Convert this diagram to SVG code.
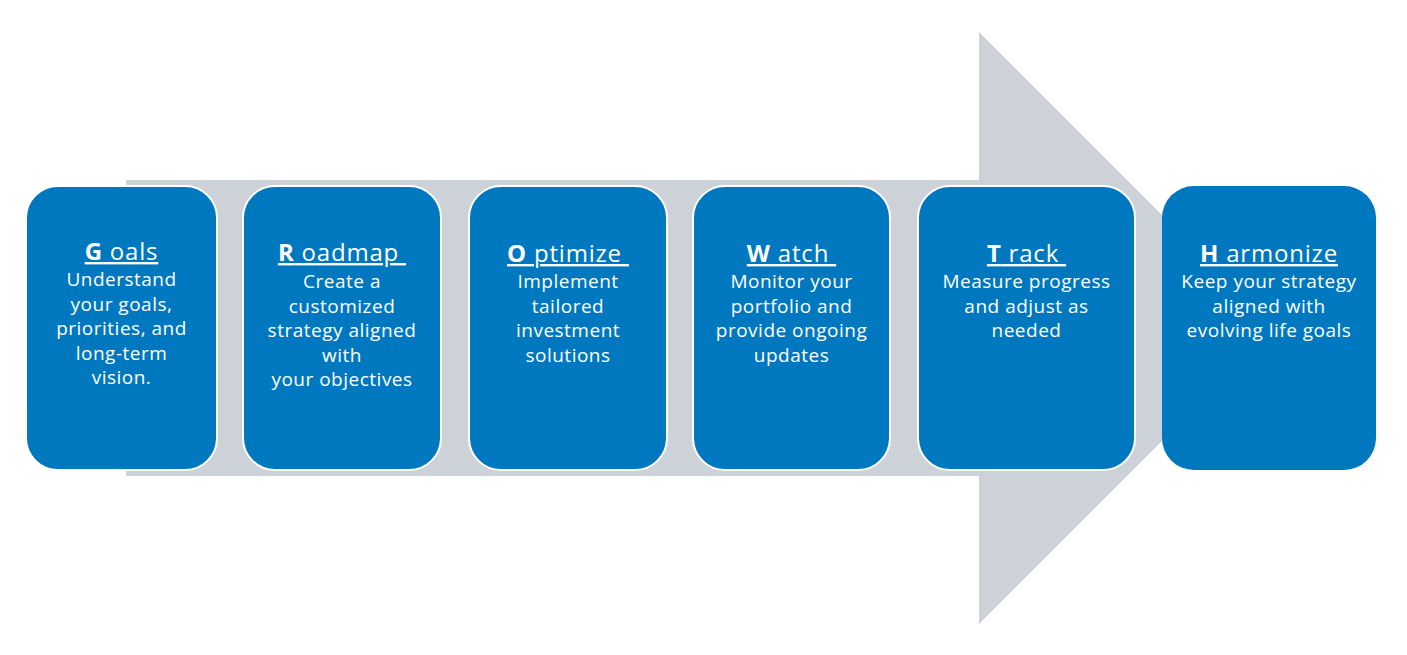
<svg xmlns="http://www.w3.org/2000/svg" width="1407" height="655" viewBox="0 0 1407 655">
<style>
.box{fill:#0078BF;stroke:#FFFFFF;stroke-width:2}
.t{font-family:"Open Sans","Liberation Sans",sans-serif;font-size:24px;fill:#FFFFFF;text-anchor:middle;text-decoration:underline;letter-spacing:0.8px}
.t .b{font-weight:bold}
.d{font-family:"Open Sans","Liberation Sans",sans-serif;font-size:19px;fill:#FFFFFF;text-anchor:middle;letter-spacing:0.5px}
</style>
<rect width="1407" height="655" fill="#FFFFFF"/>
<g id="arrow">
<polygon points="126,180 979,180 979,32 1275,328 979,624 979,476 126,476" fill="#CDD2D9"/>
</g>
<g id="connectors"></g>
<g id="goals">
<rect class="box" x="26" y="186" width="191" height="284" rx="32"/>
<text class="t" x="121.5" y="260" xml:space="preserve"><tspan class="b">G</tspan> oals</text>
<text class="d" x="121.5" y="286">Understand</text>
<text class="d" x="121.5" y="310.5">your goals,</text>
<text class="d" x="121.5" y="335">priorities, and</text>
<text class="d" x="121.5" y="359.5">long-term</text>
<text class="d" x="121.5" y="384">vision.</text>
</g>
<g id="roadmap">
<rect class="box" x="243" y="186" width="198" height="284" rx="32"/>
<text class="t" x="342" y="261" xml:space="preserve"><tspan class="b">R</tspan> oadmap </text>
<text class="d" x="342" y="288">Create a</text>
<text class="d" x="342" y="312.5">customized</text>
<text class="d" x="342" y="337">strategy aligned</text>
<text class="d" x="342" y="361.5">with</text>
<text class="d" x="342" y="386">your objectives</text>
</g>
<g id="optimize">
<rect class="box" x="469" y="186" width="198" height="284" rx="32"/>
<text class="t" x="568" y="262" xml:space="preserve"><tspan class="b">O</tspan> ptimize </text>
<text class="d" x="568" y="288">Implement</text>
<text class="d" x="568" y="312.5">tailored</text>
<text class="d" x="568" y="337">investment</text>
<text class="d" x="568" y="361.5">solutions</text>
</g>
<g id="watch">
<rect class="box" x="693" y="186" width="197" height="284" rx="32"/>
<text class="t" x="791.5" y="262" xml:space="preserve"><tspan class="b">W</tspan> atch </text>
<text class="d" x="791.5" y="288">Monitor your</text>
<text class="d" x="791.5" y="312.5">portfolio and</text>
<text class="d" x="791.5" y="337">provide ongoing</text>
<text class="d" x="791.5" y="361.5">updates</text>
</g>
<g id="track">
<rect class="box" x="918" y="186" width="217" height="284" rx="32"/>
<text class="t" x="1026.5" y="262" xml:space="preserve"><tspan class="b">T</tspan> rack </text>
<text class="d" x="1026.5" y="288">Measure progress</text>
<text class="d" x="1026.5" y="312.5">and adjust as</text>
<text class="d" x="1026.5" y="337">needed</text>
</g>
<g id="harmonize">
<rect class="box" x="1162" y="186" width="214" height="284" rx="32" style="stroke:none"/>
<text class="t" x="1269" y="262" xml:space="preserve"><tspan class="b">H</tspan> armonize</text>
<text class="d" x="1269" y="288">Keep your strategy</text>
<text class="d" x="1269" y="312.5">aligned with</text>
<text class="d" x="1269" y="337">evolving life goals</text>
</g>
</svg>
